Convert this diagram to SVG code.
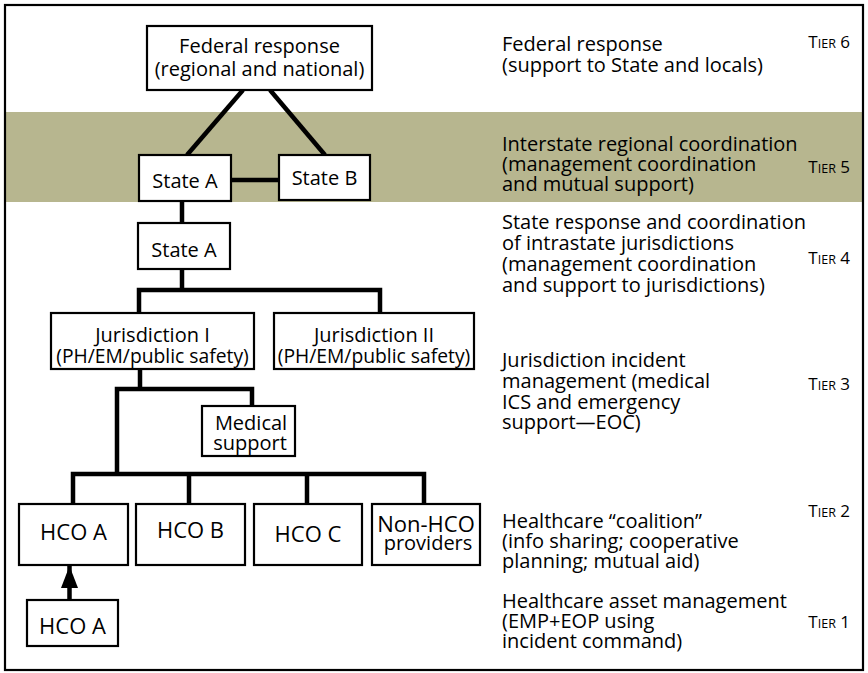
<svg xmlns="http://www.w3.org/2000/svg" width="868" height="673" viewBox="0 0 868 673">
<style>
text{font-family:"Open Sans","Liberation Sans",sans-serif;font-size:20px;fill:#000}
.c{text-anchor:middle}
.h{font-size:22px}
.p{font-size:19.3px}
.box{fill:#fff;stroke:#000;stroke-width:2.2}
.ln{fill:none;stroke:#000;stroke-width:4.5;stroke-linecap:butt;stroke-linejoin:miter}
.tier{text-anchor:end;font-size:17px}
.sc{font-size:12.5px}
</style>
<defs>
<marker id="ah" markerWidth="4.9" markerHeight="3.8" refX="4.9" refY="1.9" orient="auto" markerUnits="strokeWidth">
<path d="M0,0 L4.9,1.9 L0,3.8 Z" fill="#000"/>
</marker>
</defs>
<rect x="0" y="0" width="868" height="673" fill="#fff"/>
<rect x="6" y="112" width="857" height="90" fill="#b7b68f"/>
<rect x="5" y="5" width="858" height="665" fill="none" stroke="#000" stroke-width="2.2"/>

<g id="connectors">
<path class="ln" d="M243,90 L187,155"/>
<path class="ln" d="M270,90 L325,155"/>
<path class="ln" d="M231,180 L279,180"/>
<path class="ln" d="M182,201 L182,223"/>
<path class="ln" d="M182,269 L182,290"/>
<path class="ln" d="M139,313 L139,290 L380,290 L380,313"/>
<path class="ln" d="M140,369 L140,389"/>
<path class="ln" d="M117,474 L117,389 L252,389 L252,406"/>
<path class="ln" d="M73,504 L73,474 L424,474 L424,504"/>
<path class="ln" d="M189,474 L189,504"/>
<path class="ln" d="M307,474 L307,504"/>
<path class="ln" d="M69.5,600 L69.5,566" marker-end="url(#ah)"/>
</g>

<g id="federal"><rect class="box" x="147" y="26" width="225" height="64"/>
<text class="c" x="259.5" y="53">Federal response</text>
<text class="c" x="259.5" y="76">(regional and national)</text></g>

<g id="stateA5"><rect class="box" x="139" y="155" width="92" height="46"/>
<text class="c" x="185" y="188">State A</text></g>

<g id="stateB"><rect class="box" x="279" y="155" width="91" height="45"/>
<text class="c" x="324.5" y="185">State B</text></g>

<g id="stateA4"><rect class="box" x="138" y="223" width="92" height="46"/>
<text class="c" x="184" y="257">State A</text></g>

<g id="jur1"><rect class="box" x="51" y="313" width="203" height="56"/>
<text class="c" x="152.5" y="342">Jurisdiction I</text>
<text class="c p" x="152.5" y="363">(PH/EM/public safety)</text></g>

<g id="jur2"><rect class="box" x="274" y="313" width="200" height="56"/>
<text class="c" x="374" y="342">Jurisdiction II</text>
<text class="c p" x="374" y="363">(PH/EM/public safety)</text></g>

<g id="medical"><rect class="box" x="202" y="406" width="93" height="50"/>
<text class="c" x="251" y="430">Medical</text>
<text class="c" x="250" y="450">support</text></g>

<g id="hcoA"><rect class="box" x="19" y="504" width="109" height="61"/>
<text class="c h" x="73.5" y="540">HCO A</text></g>

<g id="hcoB"><rect class="box" x="136" y="504" width="109" height="61"/>
<text class="c h" x="190.5" y="538">HCO B</text></g>

<g id="hcoC"><rect class="box" x="254" y="504" width="108" height="61"/>
<text class="c h" x="308" y="542">HCO C</text></g>

<g id="nonHCO"><rect class="box" x="372" y="504" width="108" height="61"/>
<text class="c h" x="426" y="532">Non-HCO</text>
<text class="c" x="428" y="550">providers</text></g>

<g id="hcoA1"><rect class="box" x="27" y="600" width="91" height="46"/>
<text class="c h" x="72.5" y="634">HCO A</text></g>

<g id="tier6">
<text x="502" y="51">Federal response</text>
<text x="502" y="72">(support to State and locals)</text>
<text class="tier" x="850" y="48">T<tspan class="sc">IER</tspan> 6</text></g>

<g id="tier5">
<text x="502" y="151">Interstate regional coordination</text>
<text x="502" y="171">(management coordination</text>
<text x="502" y="191">and mutual support)</text>
<text class="tier" x="850" y="173">T<tspan class="sc">IER</tspan> 5</text></g>

<g id="tier4">
<text x="502" y="229">State response and coordination</text>
<text x="502" y="250">of intrastate jurisdictions</text>
<text x="502" y="271">(management coordination</text>
<text x="502" y="292">and support to jurisdictions)</text>
<text class="tier" x="850" y="264">T<tspan class="sc">IER</tspan> 4</text></g>

<g id="tier3">
<text x="502" y="367">Jurisdiction incident</text>
<text x="502" y="388">management (medical</text>
<text x="502" y="409">ICS and emergency</text>
<text x="502" y="429">support—EOC)</text>
<text class="tier" x="850" y="390">T<tspan class="sc">IER</tspan> 3</text></g>

<g id="tier2">
<text x="502" y="528">Healthcare “coalition”</text>
<text x="502" y="548">(info sharing; cooperative</text>
<text x="502" y="568">planning; mutual aid)</text>
<text class="tier" x="850" y="517">T<tspan class="sc">IER</tspan> 2</text></g>

<g id="tier1">
<text x="502" y="608">Healthcare asset management</text>
<text x="502" y="628">(EMP+EOP using</text>
<text x="502" y="648">incident command)</text>
<text class="tier" x="850" y="628">T<tspan class="sc">IER</tspan> 1</text></g>
</svg>
